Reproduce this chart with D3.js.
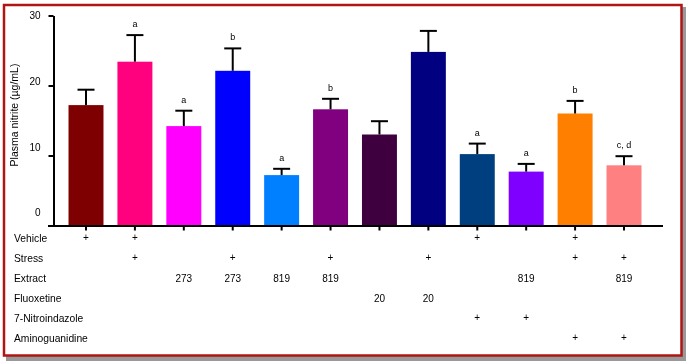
<!DOCTYPE html>
<head>
<meta charset="utf-8">
<script src="https://d3js.org/d3.v7.min.js"></script>
<style>
body { margin: 0; background-color: white; }
svg { will-change: transform; }
text { font-family: "Liberation Sans", Arial, sans-serif; fill: black; }
</style>
</head>
<body>
<div id="my_dataviz"></div>
<script>

// data
var groups = ["g1","g2","g3","g4","g5","g6","g7","g8","g9","g10","g11","g12"];
var means  = [17.2, 23.4, 14.2, 22.1, 7.2, 16.6, 13.0, 24.8, 10.2, 7.7, 16.0, 8.6];
var errors = [2.2, 3.8, 2.2, 3.2, 0.9, 1.5, 1.9, 3.0, 1.5, 1.1, 1.8, 1.3];
var colors = ["#7f0000","#ff007f","#ff00ff","#0000ff","#0080ff","#800080",
              "#3f003f","#000080","#003f7f","#8000ff","#ff8000","#ff8080"];
var letters = ["", "a", "a", "b", "a", "b", "", "", "a", "a", "b", "c, d"];
var yTicks = [0, 10, 20, 30];

var rowNames = ["Vehicle","Stress","Extract","Fluoxetine","7-Nitroindazole","Aminoguanidine"];
var rowVehicle   = ["+","+","","","","","","","+","","+",""];
var rowStress    = ["","+","","+","","+","","+","","","+","+"];
var rowExtract   = ["","","273","273","819","819","","","","819","","819"];
var rowFluox     = ["","","","","","","20","20","","","",""];
var rowNitro     = ["","","","","","","","","+","+","",""];
var rowAmino     = ["","","","","","","","","","","+","+"];
var rows = [rowVehicle, rowStress, rowExtract, rowFluox, rowNitro, rowAmino];

var width = 686, height = 363;

var svg = d3.select("#my_dataviz")
  .append("svg")
    .attr("width", width)
    .attr("height", height);

// frame with shadow
svg.append("rect")
    .attr("x", 6).attr("y", 7)
    .attr("width", 680).attr("height", 354)
    .style("fill", "#999999");
svg.append("rect")
    .attr("x", 4).attr("y", 5)
    .attr("width", 677.5).attr("height", 350.5)
    .style("fill", "white")
    .style("stroke", "#b01414")
    .style("stroke-width", 2.5);

// scales
var x = d3.scaleBand()
  .range([61.55, 648.45])
  .domain(groups)
  .paddingInner(0.285)
  .paddingOuter(0.1425);

var y = d3.scaleLinear()
  .domain([0, 30])
  .range([225.5, 15.5]);

// bars
svg.selectAll(".bar")
  .data(groups)
  .enter()
  .append("rect")
    .attr("class", "bar")
    .attr("x", function(d) { return x(d); })
    .attr("y", function(d, i) { return y(means[i]); })
    .attr("width", x.bandwidth())
    .attr("height", function(d, i) { return y(0) - y(means[i]); })
    .style("fill", function(d, i) { return colors[i]; });

// error bars (upper only)
var capW = 17;
groups.forEach(function(g, i) {
  var cx = x(g) + x.bandwidth() / 2;
  svg.append("line")
    .attr("x1", cx).attr("x2", cx)
    .attr("y1", y(means[i])).attr("y2", y(means[i] + errors[i]))
    .style("stroke", "black").style("stroke-width", 2);
  svg.append("line")
    .attr("x1", cx - capW / 2).attr("x2", cx + capW / 2)
    .attr("y1", y(means[i] + errors[i])).attr("y2", y(means[i] + errors[i]))
    .style("stroke", "black").style("stroke-width", 2);
  if (letters[i] !== "") {
    svg.append("text")
      .attr("x", cx)
      .attr("y", y(means[i] + errors[i]) - 8)
      .attr("text-anchor", "middle")
      .style("font-size", "9px")
      .text(letters[i]);
  }
});

// y axis
var yAxis = svg.append("g")
  .attr("transform", "translate(53.5,0)")
  .call(d3.axisLeft(y).tickValues(yTicks).tickSize(5).tickSizeOuter(0).tickPadding(8));
yAxis.select(".domain").style("stroke-width", 2);
yAxis.selectAll(".tick line").style("stroke-width", 2);
yAxis.selectAll(".tick text")
  .style("font-size", "10px")
  .style("font-family", "'Liberation Sans', Arial, sans-serif")
  .attr("dy", function(d) { return (0.32 - (30 - d) / 30 * 1.3) + "em"; });

// x axis line with ticks at bar centres
var xAxis = svg.append("g")
  .attr("transform", "translate(0," + y(0) + ")")
  .call(d3.axisBottom(x).tickSize(5).tickSizeOuter(0).tickFormat(""));
xAxis.select(".domain")
  .attr("d", "M48,0.5H663")
  .style("stroke-width", 2);
xAxis.selectAll(".tick line").style("stroke-width", 2);

// y axis title
svg.append("text")
  .attr("transform", "translate(18,115) rotate(-90)")
  .attr("text-anchor", "middle")
  .style("font-size", "10.5px")
  .text("Plasma nitrite (\u00b5g/mL)");

// treatment table under the chart
rowNames.forEach(function(name, r) {
  var ry = 241.5 + r * 20;
  svg.append("text")
    .attr("x", 14)
    .attr("y", ry)
    .style("font-size", "10.3px")
    .text(name);
  rows[r].forEach(function(v, i) {
    if (v === "") return;
    svg.append("text")
      .attr("x", x(groups[i]) + x.bandwidth() / 2)
      .attr("y", v === "+" ? ry - 0.5 : ry)
      .attr("text-anchor", "middle")
      .style("font-size", "10px")
      .text(v);
  });
});

</script>
</body>
